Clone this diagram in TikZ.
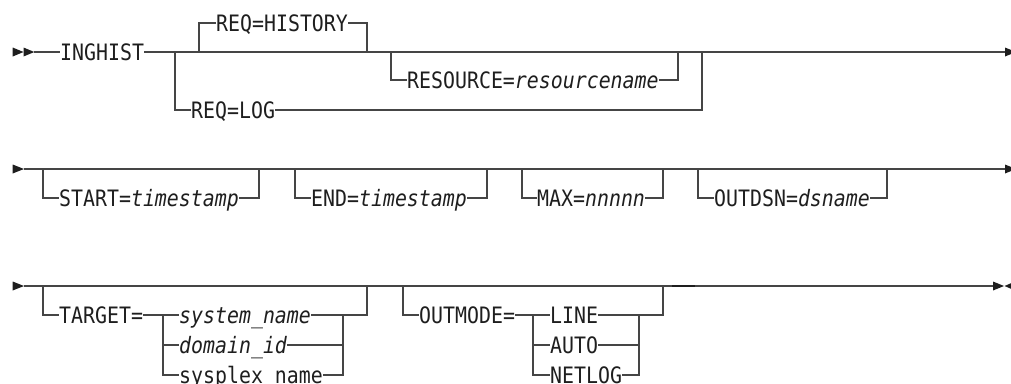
\documentclass[tikz,border=0pt]{standalone}
\usepackage{fontspec}
\newfontfamily\rrfont[FakeStretch=0.88]{DejaVu Sans Mono}
\definecolor{linec}{HTML}{454545}
\definecolor{txtc}{HTML}{1E1E1E}
\tikzset{
  txt/.style={font=\rrfont\fontsize{22.6}{24}\selectfont, inner xsep=0pt, inner ysep=0pt,
    text height=16.5pt, text depth=0pt, anchor=west, text=txtc},
  ln/.style={draw=linec, line width=1.1pt},
  tip/.style={fill=txtc, draw=none}
}
\begin{document}
\begin{tikzpicture}[x=1pt,y=-1pt]
\useasboundingbox (0,0) rectangle (1011,383);
\clip (0,0) rectangle (1011,383);

% ---------------- Row 1 ----------------
\fill[tip] (12.7,47.5) -- (23.5,52) -- (12.7,56.5) -- cycle;
\fill[tip] (23.5,47.5) -- (34.3,52) -- (23.5,56.5) -- cycle;
\fill[tip] (1005,47.5) -- (1016,52) -- (1005,56.5) -- cycle;
\coordinate (s1) at (34.3,52);
\coordinate (e1) at (1005,52);
\node[txt] (inghist) at (60,52) {INGHIST};
\draw[ln] (s1) -- (inghist.west);
\draw[ln] (inghist.east) -- (e1);

\coordinate (a1) at (199,52); \coordinate (a2) at (367,52);
\node[txt] (reqh) at (216,23) {REQ=HISTORY};
\draw[ln] (a1) |- (reqh.west);
\draw[ln] (reqh.east) -| (a2);

\coordinate (b1) at (175,52); \coordinate (b2) at (702,52);
\node[txt] (reql) at (191,110) {REQ=LOG};
\draw[ln] (b1) |- (reql.west);
\draw[ln] (reql.east) -| (b2);

\coordinate (c1) at (391,52); \coordinate (c2) at (678,52);
\node[txt] (res) at (407,80) {RESOURCE=\textit{resourcename}};
\draw[ln] (c1) |- (res.west);
\draw[ln] (res.east) -| (c2);

% ---------------- Row 2 ----------------
\fill[tip] (12.7,164.5) -- (24,169) -- (12.7,173.5) -- cycle;
\fill[tip] (1005,164.5) -- (1016,169) -- (1005,173.5) -- cycle;
\coordinate (s2) at (24,169);
\coordinate (e2) at (1005,169);
\draw[ln] (s2) -- (e2);

\coordinate (d1) at (43,169); \coordinate (d2) at (259,169);
\node[txt] (start) at (59,198) {START=\textit{timestamp}};
\draw[ln] (d1) |- (start.west);
\draw[ln] (start.east) -| (d2);

\coordinate (f1) at (295,169); \coordinate (f2) at (487,169);
\node[txt] (endn) at (311,198) {END=\textit{timestamp}};
\draw[ln] (f1) |- (endn.west);
\draw[ln] (endn.east) -| (f2);

\coordinate (g1) at (522,169); \coordinate (g2) at (663,169);
\node[txt] (maxn) at (537,198) {MAX=\textit{nnnnn}};
\draw[ln] (g1) |- (maxn.west);
\draw[ln] (maxn.east) -| (g2);

\coordinate (h1) at (698,169); \coordinate (h2) at (887,169);
\node[txt] (outdsn) at (714,198) {OUTDSN=\textit{dsname}};
\draw[ln] (h1) |- (outdsn.west);
\draw[ln] (outdsn.east) -| (h2);

% ---------------- Row 3 ----------------
\fill[tip] (12.7,281.5) -- (24,286) -- (12.7,290.5) -- cycle;
\fill[tip] (993,281.5) -- (1004,286) -- (993,290.5) -- cycle;
\fill[tip] (1004.5,286) -- (1015,281.5) -- (1015,290.5) -- cycle;
\coordinate (s3) at (24,286);
\coordinate (e3) at (993,286);
\draw[ln] (s3) -- (e3);
\coordinate (k1) at (672,286); \coordinate (k2) at (695,286);
\draw[draw=txtc, line width=2.4pt] (k1) -- (k2);

\coordinate (t1) at (43,286); \coordinate (t2) at (367,286);
\node[txt] (tgt) at (59,315) {TARGET=};
\coordinate (tv) at (163,315);
\coordinate (tr) at (343,315);
\node[txt] (sys) at (179,315) {\textit{system\_name}};
\node[txt] (dom) at (179,345) {\textit{domain\_id}};
\node[txt] (spx) at (179,375) {sysplex\_name};
\draw[ln] (t1) |- (tgt.west);
\draw[ln] (tgt.east) -- (tv) -- (sys.west);
\draw[ln] (tv) |- (spx.west);
\draw[ln] (tv |- dom.west) -- (dom.west);
\draw[ln] (sys.east) -- (tr);
\draw[ln] (spx.east) -| (tr);
\draw[ln] (dom.east) -- (tr |- dom.west);
\draw[ln] (tr) -| (t2);

\coordinate (o1) at (403,286); \coordinate (o2) at (663,286);
\node[txt] (om) at (419,315) {OUTMODE=};
\coordinate (ov) at (533,315);
\coordinate (orr) at (639,315);
\node[txt] (line) at (550,315) {LINE};
\node[txt] (auto) at (550,345) {AUTO};
\node[txt] (netlog) at (550,375) {NETLOG};
\draw[ln] (o1) |- (om.west);
\draw[ln] (om.east) -- (ov) -- (line.west);
\draw[ln] (ov) |- (netlog.west);
\draw[ln] (ov |- auto.west) -- (auto.west);
\draw[ln] (line.east) -- (orr);
\draw[ln] (netlog.east) -| (orr);
\draw[ln] (auto.east) -- (orr |- auto.west);
\draw[ln] (orr) -| (o2);
\end{tikzpicture}
\end{document}
